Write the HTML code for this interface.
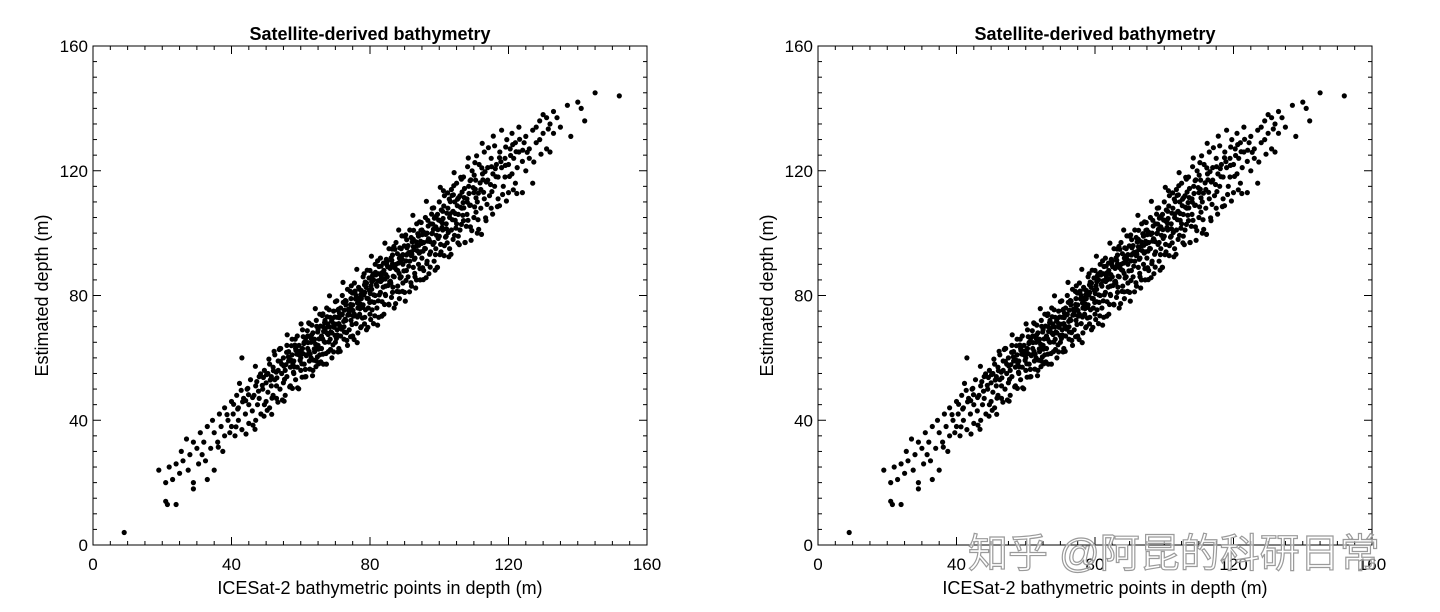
<!DOCTYPE html>
<html><head><meta charset="utf-8">
<style>
html,body{margin:0;padding:0;background:#fff;}
svg{display:block;font-family:"Liberation Sans",Arial,sans-serif;}
</style></head>
<body>
<svg id="chart" width="1440" height="612" viewBox="0 0 1440 612" xmlns="http://www.w3.org/2000/svg">
<rect width="1440" height="612" fill="#fff"/>
<g id="p1"></g>
<g id="p2"></g>
<text x="968" y="567" font-size="40" fill="rgba(255,255,255,0.55)" stroke="#9a9a9a" stroke-width="1.2" font-family="'Liberation Sans','Noto Sans CJK SC',sans-serif">知乎 @阿昆的科研日常</text>
</svg>
<script>
const xTicks=[0,40,80,120,160];
const yTicks=[0,40,80,120,160];
const titleText="Satellite-derived bathymetry";
const xTitle="ICESat-2 bathymetric points in depth (m)";
const yTitle="Estimated depth (m)";
const points=[
[9,4],[21,14],[21.5,13],[24,13],[19,24],[21,20],[22,25],[23,21],[24,26],[25,23],[25.5,30],[26,27],[27,34],[27.5,24],[28,29],[29,33],[29,18],[29,20],[30,31],[30.5,26],[31,36],[31.5,29],[32,33],[32.5,27],[33,38],[33,21],[34,31],[34.5,40],[35,36],[35,24],[36,33],[36.5,42],[37,38],[37.5,30],[38,35],[38,44],[39,40],[39.5,36],[40,46],[40,38],[40.5,42],[41,35],[41.5,48],[42,40],[42,44],[43,60],[43,37],[43.5,47],[44,42],[44.5,50],[45,39],[45,45],[45.5,53],[46,43],[46.5,48],[47,40],[47,51],[47.5,45],[48,54],[48,47],[48.5,42],[49,50],[49.5,56],[49.5,45],
[50,46],[50,52],[50.5,55],[50.5,49],[51,44],[51,58],[51.5,51],[51.5,54],[52,48],[52,57],[52.5,53],[52.5,61],[53,47],[53,51],[53.5,56],[53.5,59],[54,63],[54,50],[54.5,55],[54.5,58],[55,52],[55,60],[55.5,56],[55.5,48],[56,64],[56,54],[56.5,59],[56.5,62],[57,51],[57,57],[57.5,61],[57.5,66],[58,55],[58,59],[58.5,63],[58.5,53],[59,57],[59,67],[59.5,61],[59.5,64],[60,56],[60,60],[60.5,69],[60.5,63],[61,58],[61,65],[61.5,54],[61.5,61],[62,67],[62,63],[62.5,59],[62.5,71],[63,60],[63,65],[63.5,68],[63.5,56],[64,62],[64,66],[64.5,72],[64.5,59],[65,64],[65,69],[65.5,61],[65.5,74],[66,67],[66,63],[66.5,70],[66.5,58],[67,65],[67,72],[67.5,68],[67.5,76],[68,62],[68,70],[68.5,66],[68.5,73],[69,60],[69,68],[69.5,75],[69.5,71],[70,65],[70,78],[70.5,69],[70.5,73],[71,63],[71,71],[71.5,67],[71.5,76],[72,74],[72,80],[72.5,66],[72.5,70],[73,72],[73,77],[73.5,64],[73.5,82],[74,75],[74,69],[74.5,79],[74.5,72],[75,67],[75,77],[75.5,74],[75.5,84],[76,71],[76,80],[76.5,68],[76.5,76],[77,82],[77,74],[77.5,79],[77.5,70],[78,86],[78,77],[78.5,73],[78.5,81],[79,69],[79,84],[79.5,76],[79.5,79],[80,88],[80,74],[80.5,82],[80.5,78],[81,71],[81,85],[81.5,80],[81.5,90],[82,76],[82,83],[82.5,87],[82.5,73],[83,81],[83,92],[83.5,78],[83.5,85],[84,88],[84,74],[84.5,83],[84.5,80],[85,91],[85,86],[85.5,77],[85.5,95],[86,84],[86,89],[86.5,81],[86.5,93],[87,86],[87,76],[87.5,90],[87.5,97],[88,83],[88,88],[88.5,92],[88.5,79],[89,86],[89,95],[89.5,90],[89.5,84],[90,99],[90,81],[90.5,93],[90.5,88],[91,86],[91,96],[91.5,91],[91.5,101],[92,83],[92,94],[92.5,89],[92.5,98],[93,92],[93,86],[93.5,103],[93.5,96],[94,90],[94,99],[94.5,85],[94.5,94],[95,101],[95,92],[95.5,97],[95.5,88],[96,105],[96,95],[96.5,91],[96.5,100],[97,98],[97,87],[97.5,103],[97.5,94],[98,100],[98,108],[98.5,91],[98.5,97],[99,102],[99,95],[99.5,106],[99.5,89],[100,99],[100,110],[100.5,104],[100.5,94],[101,101],[101,107],[101.5,96],[101.5,112],[102,103],[102,99],[102.5,108],[103,95],[103,105],[103.5,101],[103.5,114],[104,107],[104,98],[104.5,110],[105,103],[105,116],[105.5,99],[105.5,106],[106,112],[106,101],[106.5,108],[107,118],[107,104],[107.5,97],[108,111],[108,106],[108.5,115],[109,102],[109,109],[109.5,120],[110,113],[110,105],[110.5,117],[111,110],[111,100],[111.5,122],[112,114],[112,108],[112.5,119],[113,111],[113,126],[113.5,104],[114,117],[114,121],[114.5,112],[115,124],[115,108],[115.5,119],[116,115],[116,128],[116.5,122],[117,111],[117,118],[117.5,126],[118,121],[118,133],[118.5,115],[119,124],[119,118],[119.5,130],[120,122],[120,113],[120.5,127],[121,119],[121,132],[121.5,124],[122,129],[122,116],[122.5,121],[123,126],[123,134],[124,113],[124,123],[124.5,129],[125,120],[125,131],[126,127],[126,124],[127,133],[127,116],[128,134],[128,129],[129,130],[129,136],[130,138],[130,132],[131,137],[131,127],[132,126],[132,135],[133,132],[133,139],[134,137],[135,134],[137,141],[138,131],[140,142],[141,140],[142,136],[145,145],[152,144],
[36.2,31.4],[38.7,41.8],[41.3,37.9],[42.8,49.6],[44.1,46.3],[46.2,38.4],[47.8,49.3],[49.2,53.7],[50.3,43.2],[51.7,47.1],[52.9,55.4],[53.8,62.7],[54.7,46.5],[55.9,61.8],[56.8,50.7],[57.3,63.9],[58.2,57.1],[59.1,50.4],[59.8,59.2],[60.7,66.8],[61.3,56.3],[61.9,68.7],[62.7,61.2],[63.2,70.5],[63.9,62.9],[64.4,57.2],[64.9,68.3],[65.3,66.1],[65.8,58.7],[66.2,73.6],[66.8,65.2],[67.3,61.4],[67.8,70.9],[68.2,75.4],[68.7,68.3],[69.3,64.2],[69.8,73.1],[70.2,70.8],[70.8,61.9],[71.2,74.3],[71.8,69.2],[72.3,77.8],[72.8,72.4],[73.2,68.1],[73.8,75.6],[74.3,81.3],[74.8,70.7],[75.2,73.4],[75.8,78.9],[76.3,64.9],[76.7,82.6],[77.2,77.3],[77.8,72.8],[78.2,80.2],[78.7,75.4],[79.2,88.1],[79.8,81.7],[80.2,72.3],[80.7,86.3],[81.2,77.8],[81.8,83.6],[82.2,70.5],[82.7,80.2],[83.2,89.4],[83.8,82.7],[84.2,77.1],[84.7,91.6],[85.2,83.2],[85.8,88.7],[86.2,79.4],[86.7,86.2],[87.2,94.8],[87.8,81.3],[88.2,90.4],[88.7,85.6],[89.2,99.1],[89.8,87.9],[90.2,78.2],[90.7,95.3],[91.2,89.4],[91.8,84.1],[92.2,97.2],[92.8,91.6],[93.2,82.4],[93.8,99.8],[94.2,93.6],[94.8,103.4],[95.2,88.9],[95.8,95.1],[96.2,85.7],[96.8,102.3],[97.2,93.2],[97.8,106.1],[98.2,96.4],[98.8,88.1],[99.2,99.3],[99.8,104.2],[100.2,93.1],[100.8,101.8],[101.2,113.6],[101.8,98.7],[102.2,106.4],[102.8,92.4],[103.2,110.1],[103.8,104.3],[104.2,115.2],[104.8,101.6],[105.2,108.8],[105.8,96.3],[106.2,117.9],[106.8,105.7],[107.2,111.4],[107.8,102.2],[108.2,121.3],[108.8,108.9],[109.2,97.7],[109.8,114.6],[110.2,108.4],[110.8,124.8],[111.2,104.3],[111.8,116.1],[112.2,99.6],[112.8,113.1],[113.2,119.7],[113.8,109.2],[114.2,127.4],[114.8,115.6],[115.2,113.3],[116.2,120.7],[116.8,108.5],[117.8,122.9],[118.3,112.4],[119.2,127.6],[120.3,118.2],[121.2,128.4],[122.4,112.7],[123.2,130.1],[125.4,125.9],[127.3,122.8],[129.4,125.3],[131.5,133.4],
[55.3,53.1],[57.1,59.4],[58.9,61.2],[60.3,58.1],[62.1,64.9],[63.7,59.3],[65.1,62.8],[66.6,68.5],[68.1,65.1],[69.6,69.8],[71.1,72.9],[72.6,75.3],[74.1,73.8],[75.6,80.9],[77.1,75.8],[78.6,84.3],[80.1,80.6],[81.6,87.4],[83.1,84.5],[84.6,86.7],[86.1,92.1],[87.6,88.3],[89.1,92.7],[90.6,97.9],[92.1,93.2],[93.6,94.4],[95.1,99.5],[96.6,97.4],[98.1,102.9],[99.6,101.1],[101.1,104.7],[102.6,100.2],[104.1,112.3],[105.6,111.4],[107.1,108.1],[108.6,112.7],[110.1,118.6],[57.9,55.4],[61.6,60.7],[64.7,64.1],[67.9,67.5],[70.6,67.3],[73.6,73.7],[76.9,79.1],[79.9,77.8],[82.9,84.9],[85.9,84.6],[88.9,90.9],[91.9,92.8],[94.9,96.7],[97.9,99.8],[100.9,103.2],[103.9,106.9],[106.9,109.8],[74.5,76.4],[77.5,81.6],[80.5,84.4],[83.5,87.3],[86.5,90.1],[89.5,93.1],[92.5,95.6],[95.5,100.3],
[40.6,45.1],[42.3,51.8],[44.7,50.2],[46.9,57.3],[48.4,54.9],[50.8,59.6],[52.3,62.1],[54.2,63.0],[56.1,67.4],[58.4,66.0],[60.1,70.9],[62.3,71.2],[64.2,75.8],[66.4,74.1],[68.3,79.9],[70.4,78.3],[72.2,84.2],[74.6,83.1],[76.2,88.4],[78.3,87.0],[80.4,92.6],[82.2,91.1],[84.3,96.8],[86.4,94.9],[88.3,101.0],[90.3,99.4],[92.4,105.7],[94.3,103.6],[96.3,110.2],[98.4,108.1],[100.3,114.7],[102.4,112.9],[104.3,119.4],[106.4,117.3],[108.4,124.1],[110.3,122.6],[112.4,128.8],[115.6,131.1],
[44.2,35.6],[46.8,37.1],[49.4,41.3],[51.6,41.9],[53.4,45.8],[55.2,46.1],[57.6,50.2],[59.4,50.1],[61.2,53.9],[63.4,54.3],[65.2,58.1],[67.4,58.0],[69.5,61.9],[71.4,62.1],[73.3,65.6],[75.4,65.9],[77.3,69.7],[79.4,69.8],[81.4,73.5],[83.4,73.4],[85.4,77.2],[87.4,77.4],[89.4,81.3],[91.4,81.2],[93.4,85.0],[95.4,85.1],[97.4,89.1],[99.4,89.0],[101.4,92.8],[103.4,93.2],[105.4,96.9],[107.4,97.0],[109.4,100.8],[111.4,101.2],[113.4,104.9],[115.4,106.1],[117.4,108.8],[119.4,110.3],[121.4,113.9],
[58.6,62.4],[60.9,64.6],[62.9,66.4],[64.6,70.1],[66.9,71.3],[68.9,71.8],[70.9,75.6],[72.9,78.4],[74.9,80.8],[76.6,78.3],[78.9,82.6],[80.9,86.9],[82.6,89.3],[84.9,89.8],[86.9,95.7],[88.6,95.3],[90.9,93.4],[92.6,100.9],[94.6,97.4],[96.9,98.2],[98.6,104.8],[100.6,107.4],[102.9,110.9],[104.6,104.1],[106.6,113.2],[108.9,116.8],[110.6,111.3],[112.6,117.1],[60.4,53.8],[62.6,56.4],[64.8,60.3],[66.4,61.2],[68.6,62.7],[70.3,66.2],[72.6,68.3],[74.4,66.8],[76.4,73.1],[78.4,70.9],[80.6,75.4],[82.4,78.3],[84.4,80.4],[86.6,82.7],[88.4,81.2],[90.4,84.8],[92.9,87.1],[94.4,88.6],[96.4,90.2],[98.9,93.1],[100.4,96.4],[102.3,96.9],[104.4,99.3],[106.4,102.8],[108.3,104.1],[110.6,106.7],
[55.7,57.8],[56.4,60.3],[57.7,58.2],[58.3,64.1],[59.6,62.2],[60.6,61.4],[61.4,66.2],[62.4,62.1],[63.1,67.3],[63.8,65.6],[64.3,64.4],[65.7,70.2],[66.3,66.1],[67.1,69.4],[67.6,73.2],[68.4,69.9],[69.1,72.6],[69.9,67.2],[70.7,75.3],[71.3,70.2],[71.9,73.8],[72.4,71.7],[73.1,78.2],[73.9,74.2],[74.4,77.1],[75.1,75.2],[75.7,81.4],[76.4,77.6],[77.4,80.4],[77.9,76.2],[78.4,83.4],[79.1,79.1],[79.7,85.6],[80.3,83.1],[81.1,80.2],[81.7,86.6],[82.3,84.7],[83.3,86.1],[83.9,90.4],[84.4,85.3],[85.1,89.2],[85.7,84.4],[86.3,91.3],[87.1,88.9],[87.9,93.4],[88.4,87.1],[89.3,91.6],[89.9,95.9],[90.4,91.1],[91.3,93.8],[91.9,98.6],[92.7,94.7],[93.3,97.2],[94.1,96.1],[94.7,100.9],[95.3,94.2],[96.1,99.6],[96.7,104.1],[97.3,97.3],[98.3,101.2],[99.1,105.4],[99.7,98.3],[100.4,103.9],[101.3,108.7],[102.1,101.4],[103.1,106.2],[103.7,112.1],[104.6,106.3],[105.3,110.9],[106.1,108.3],[107.3,114.3],[108.1,109.9],[109.1,117.1],[110.4,114.1],[111.3,112.8],[112.3,120.9],[113.6,116.4],[115.1,121.3],[116.4,118.1],[117.4,124.2],[119.1,121.7],[120.6,124.9],[122.2,126.1],[124.1,126.6],
[41.8,43.6],[43.2,45.9],[44.9,48.2],[46.1,47.3],[47.3,52.4],[48.9,51.2],[50.1,54.6],[51.2,52.9],[52.1,55.9],[53.1,53.6],[54.1,58.9],[55.1,57.4]
];

const NS="http://www.w3.org/2000/svg";
function mk(tag,attrs,parent){const e=document.createElementNS(NS,tag);for(const k in attrs)e.setAttribute(k,attrs[k]);parent.appendChild(e);return e;}

function drawPanel(g,L){
  const R=L+554,T=46,B=545;
  const sx=v=>L+(v-0)/(160-0)*(R-L);
  const sy=v=>B-(v-0)/(160-0)*(B-T);
  const pts=mk('g',{},g);
  
  
  points.forEach(p=>{
    const c=mk('circle',{cx:sx(p[0]).toFixed(1),cy:sy(p[1]).toFixed(1),r:2.6,fill:'#000'},pts);
    
    
  });
  const frame=mk('rect',{x:L,y:T,width:R-L,height:B-T,fill:'none',stroke:'#000','stroke-width':1},g);
  
  
  const tk=mk('g',{stroke:'#000','stroke-width':1},g);
  
  
  for(let v=0;v<=160;v+=5){
    const len=(v%40===0)?8:4;
    const x=sx(v),y=sy(v);
    mk('line',{x1:x,y1:B,x2:x,y2:B-len},tk);
    mk('line',{x1:x,y1:T,x2:x,y2:T+len},tk);
    mk('line',{x1:L,y1:y,x2:L+len,y2:y},tk);
    mk('line',{x1:R,y1:y,x2:R-len,y2:y},tk);
  }
  xTicks.forEach(v=>{
    const t=mk('text',{x:sx(v),y:570,'font-size':17,'text-anchor':'middle',fill:'#000'},g);
    t.textContent=v;
    
    
  });
  yTicks.forEach(v=>{
    const t=mk('text',{x:L-5,y:sy(v)+6,'font-size':17,'text-anchor':'end',fill:'#000'},g);
    t.textContent=v;
    
    
  });
  const tt=mk('text',{x:(L+R)/2,y:40,'font-size':18,'font-weight':'bold','text-anchor':'middle'},g);
  tt.textContent=titleText;
  
  
  const xt=mk('text',{x:(L+R)/2+10,y:594,'font-size':18,'text-anchor':'middle'},g);
  xt.textContent=xTitle;
  
  
  const yx=L-45,yy=(T+B)/2;
  const yt=mk('text',{x:yx,y:yy,'font-size':18,'text-anchor':'middle',transform:`rotate(-90 ${yx} ${yy})`},g);
  yt.textContent=yTitle;
  
  
}
drawPanel(document.getElementById('p1'),93);
drawPanel(document.getElementById('p2'),818);
</script>
</body></html>
